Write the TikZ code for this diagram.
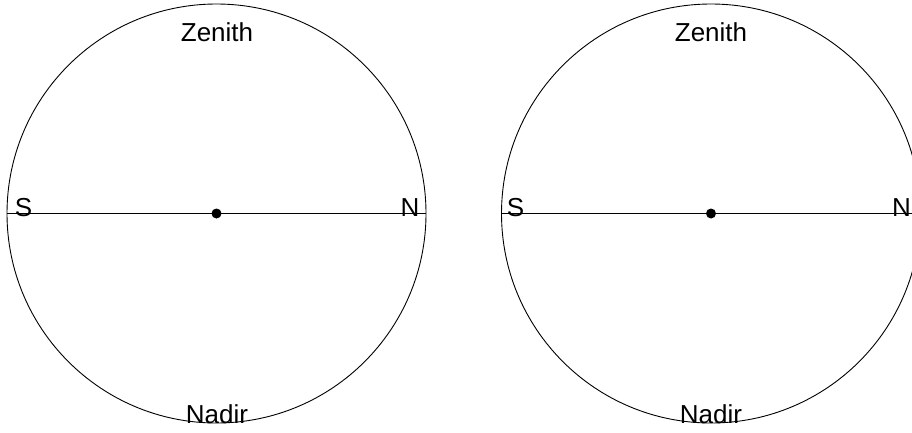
\documentclass[tikz,border=0pt]{standalone}
\usepackage{fontspec}
\setmainfont{Liberation Sans}
\begin{document}
\begin{tikzpicture}[x=1pt,y=1pt,
  sphere/.style={circle,draw,line width=0.9pt,minimum size=419pt,inner sep=0pt},
  ctr/.style={circle,fill,minimum size=10pt,inner sep=0pt},
  lbl/.style={font=\fontsize{26}{30}\selectfont,inner sep=0pt,anchor=base}]
\useasboundingbox (0,0) rectangle (912,432);
\clip (0,0) rectangle (912,432);
% left
\node[sphere] (c1) at (216.5,218.5) {};
\draw[line width=0.9pt] (c1.west) -- (c1.east);
\node[ctr] (o1) at (c1.center) {};
\node[lbl] (z1) at (217,390) {Zenith};
\node[lbl] (n1) at (217,9) {Nadir};
\node[lbl] (s1) at (23.5,215.5) {S};
\node[lbl] (N1) at (410,215.5) {N};
% right
\node[sphere] (c2) at (711,218.5) {};
\draw[line width=0.9pt] (c2.west) -- (c2.east);
\node[ctr] (o2) at (c2.center) {};
\node[lbl] (z2) at (711,390) {Zenith};
\node[lbl] (n2) at (711,9) {Nadir};
\node[lbl] (s2) at (515.5,215.5) {S};
\node[lbl] (N2) at (901.5,215.5) {N};
\end{tikzpicture}
\end{document}
